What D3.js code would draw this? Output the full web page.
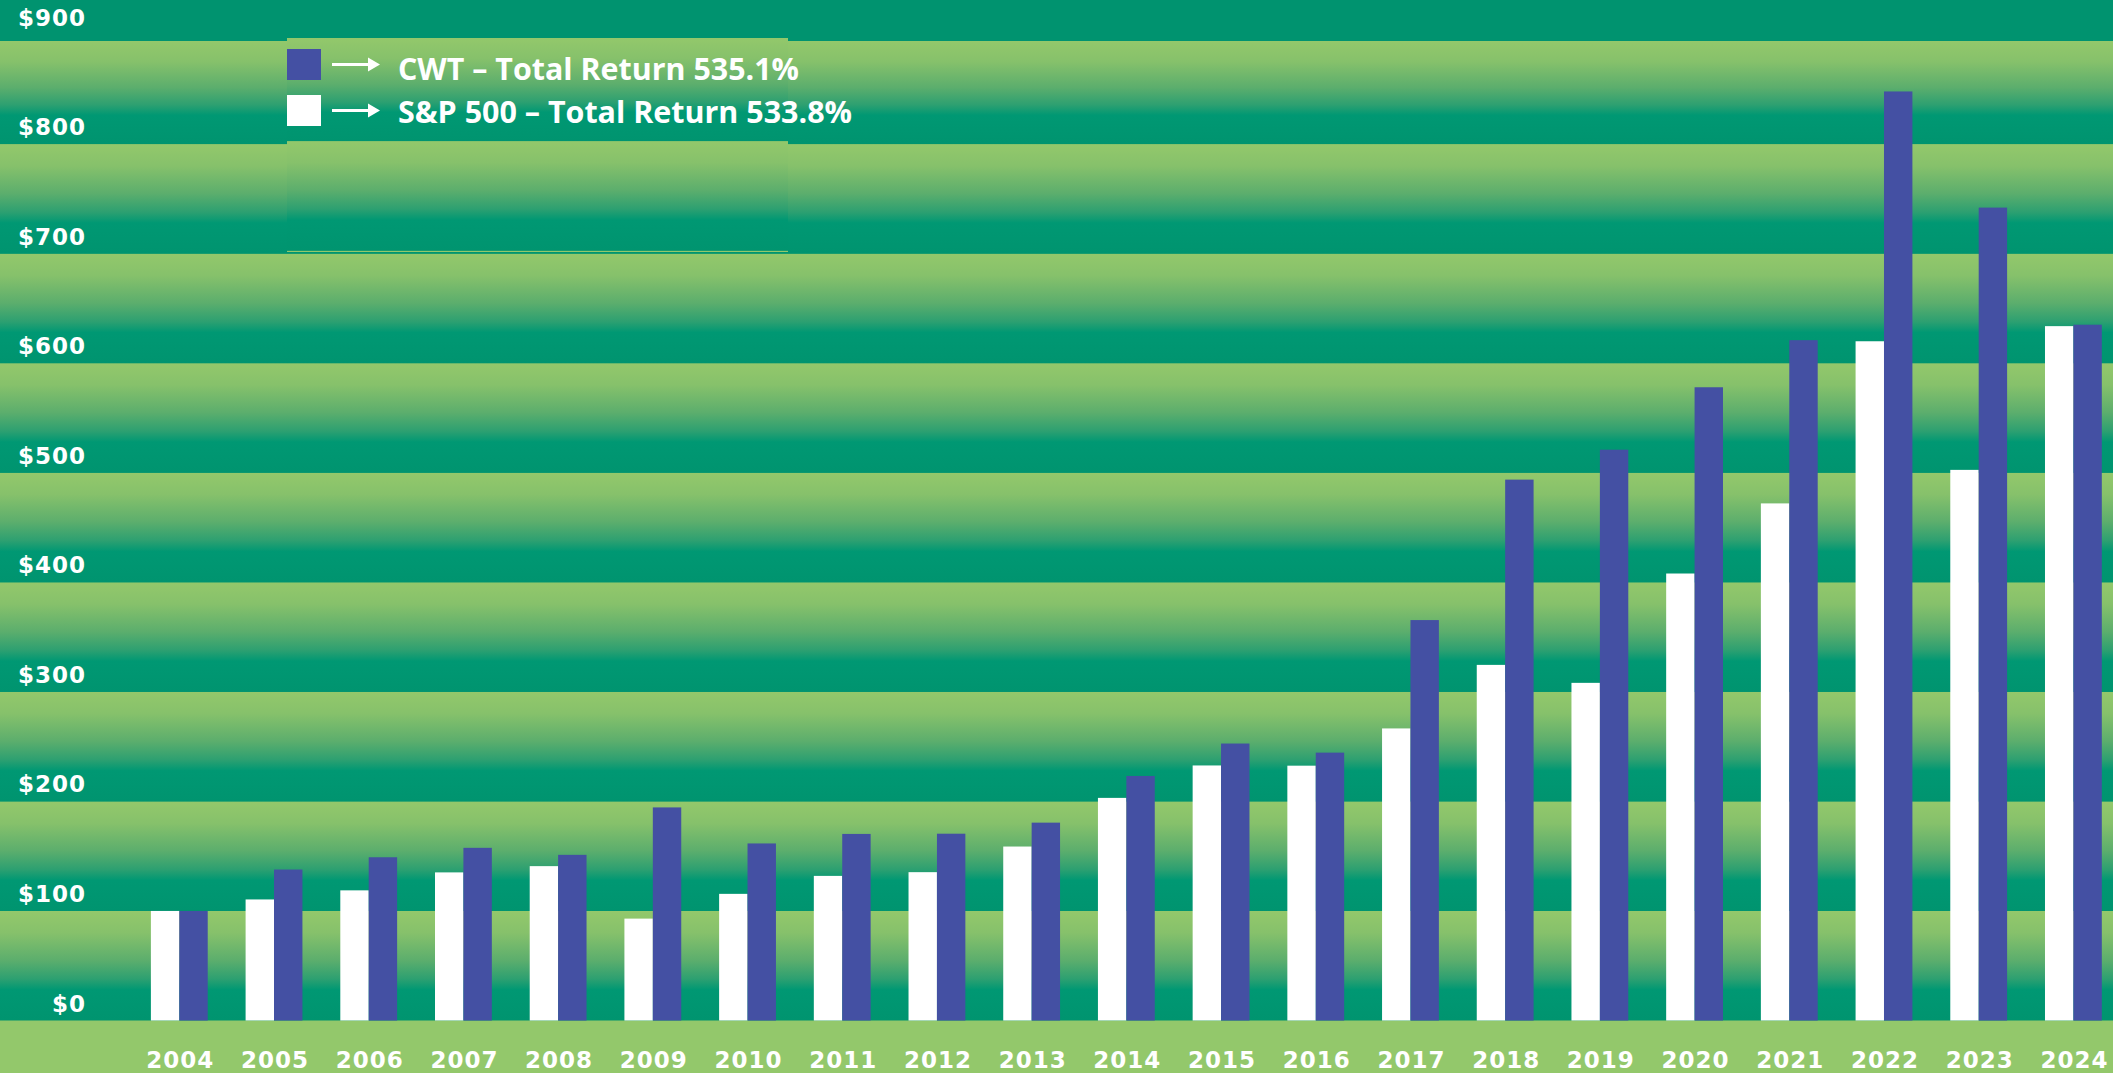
<!DOCTYPE html>
<html>
<head>
<meta charset="utf-8">
<script src="https://cdn.jsdelivr.net/npm/d3@7"></script>
<style>
  html, body { margin: 0; padding: 0; background: #009370; }
  svg { display: block; }
</style>
</head>
<body>
<svg id="chart" width="2113" height="1073"></svg>
<script>
// ---- data ----
const years = ["2004","2005","2006","2007","2008","2009","2010","2011","2012","2013","2014",
               "2015","2016","2017","2018","2019","2020","2021","2022","2023","2024"];
const sp500 = [100, 110.5, 118.8, 135.2, 140.9, 93, 115.6, 132, 135.4, 158.8, 203.2,
               232.8, 232.6, 266.6, 324.6, 308.2, 408, 472, 620, 502.6, 633.8];
const cwt   = [100, 137.8, 149, 157.6, 151.2, 194.5, 161.6, 170.3, 170.5, 180.6, 223.2,
               252.8, 244.5, 365.5, 493.7, 521, 578, 621, 848, 742, 635.1];
const yTicks = [0, 100, 200, 300, 400, 500, 600, 700, 800, 900];
const seriesNames = ["S&P 500", "CWT"];
const legendLabels = ["CWT \u2013 Total Return 535.1%", "S&P 500 \u2013 Total Return 533.8%"];

// ---- setup ----
const W = 2113, H = 1073;
const svg = d3.select("#chart");
const defs = svg.append("defs");

const y = d3.scaleLinear().domain([0, 900]).range([1020.5, 34.5]);
const x = d3.scaleBand().domain(years).range([131.95, 2120.75]).paddingInner(0.4).paddingOuter(0.2);
const xs = d3.scaleBand().domain(seriesNames).range([0, x.bandwidth()]).padding(0);
const colors = { "S&P 500": "#ffffff", "CWT": "#4450a3" };

// band gradient
const grad = defs.append("linearGradient").attr("id", "bandGrad")
  .attr("x1", 0).attr("y1", 0).attr("x2", 0).attr("y2", 1);
[[0, "#93c86b"], [0.2, "#86c16b"], [0.45, "#5cae6d"], [0.62, "#2da071"], [0.72, "#009873"], [1, "#00946f"]]
  .forEach(([o, c]) => grad.append("stop").attr("offset", o).attr("stop-color", c));

// base background
svg.append("rect").attr("x", 0).attr("y", 0).attr("width", W).attr("height", H).attr("fill", "#00936f");

function drawBands(g, dy) {
  const bandVals = yTicks.slice(0, -1);
  g.selectAll("rect.band").data(bandVals).join("rect")
    .attr("class", "band")
    .attr("x", 0).attr("width", W)
    .attr("y", d => (d === 800 ? 41 : y(d + 100)) + dy)
    .attr("height", d => y(d) - (d === 800 ? 41 : y(d + 100)))
    .attr("fill", "url(#bandGrad)");
  g.append("rect").attr("x", 0).attr("width", W)
    .attr("y", y(0) + dy).attr("height", H - y(0))
    .attr("fill", "#93c86b");
}
drawBands(svg.append("g"), 0);

// legend box with slightly offset stripes
defs.append("clipPath").attr("id", "legClip")
  .append("rect").attr("x", 287).attr("y", 38).attr("width", 501).attr("height", 214);
const legBg = svg.append("g").attr("clip-path", "url(#legClip)");
legBg.append("rect").attr("x", 0).attr("y", 0).attr("width", W).attr("height", H).attr("fill", "#00936f");
drawBands(legBg, -3);

// ---- y axis labels ----
const labelFont = "'DejaVu Sans', sans-serif";
svg.append("g").selectAll("text").data(yTicks).join("text")
  .attr("x", 86).attr("y", d => y(d) - 9)
  .attr("text-anchor", "end")
  .attr("font-family", labelFont).attr("font-weight", "bold")
  .attr("font-size", 23).attr("letter-spacing", 1)
  .attr("fill", "#ffffff")
  .text(d => "$" + d);

// ---- x axis labels ----
svg.append("g").selectAll("text").data(years).join("text")
  .attr("x", d => x(d) + x.bandwidth() / 2 + 1).attr("y", 1068)
  .attr("text-anchor", "middle")
  .attr("font-family", labelFont).attr("font-weight", "bold")
  .attr("font-size", 23).attr("letter-spacing", 1)
  .attr("fill", "#ffffff")
  .text(d => d);

// ---- bars ----
const rows = years.map((yr, i) => ({ year: yr, vals: [
  { key: "S&P 500", v: sp500[i] }, { key: "CWT", v: cwt[i] }] }));
const gBars = svg.append("g");
gBars.selectAll("g").data(rows).join("g")
  .attr("transform", d => `translate(${x(d.year)},0)`)
  .selectAll("rect").data(d => d.vals).join("rect")
  .attr("x", d => xs(d.key))
  .attr("width", xs.bandwidth())
  .attr("y", d => y(d.v))
  .attr("height", d => y(0) - y(d.v))
  .attr("fill", d => colors[d.key]);

// ---- legend ----
const legItems = [
  { color: colors["CWT"], label: legendLabels[0], y0: 49, baseline: 79.5, len: 401 },
  { color: colors["S&P 500"], label: legendLabels[1], y0: 95, baseline: 123, len: 454 }
];
const leg = svg.append("g");
legItems.forEach(it => {
  const cy = it.y0 + 15.5;
  leg.append("rect").attr("x", 287).attr("y", it.y0).attr("width", 34).attr("height", 31).attr("fill", it.color);
  leg.append("line").attr("x1", 332).attr("x2", 370)
    .attr("y1", cy).attr("y2", cy)
    .attr("stroke", "#ffffff").attr("stroke-width", 3);
  leg.append("path")
    .attr("d", `M368,${cy - 7} L380,${cy} L368,${cy + 7} Z`)
    .attr("fill", "#ffffff");
  leg.append("text").attr("x", 398).attr("y", it.baseline)
    .attr("font-family", "'Open Sans', sans-serif").attr("font-weight", 700)
    .attr("font-size", 31)
    .attr("textLength", it.len).attr("lengthAdjust", "spacingAndGlyphs")
    .attr("fill", "#ffffff")
    .text(it.label);
});
</script>
</body>
</html>
